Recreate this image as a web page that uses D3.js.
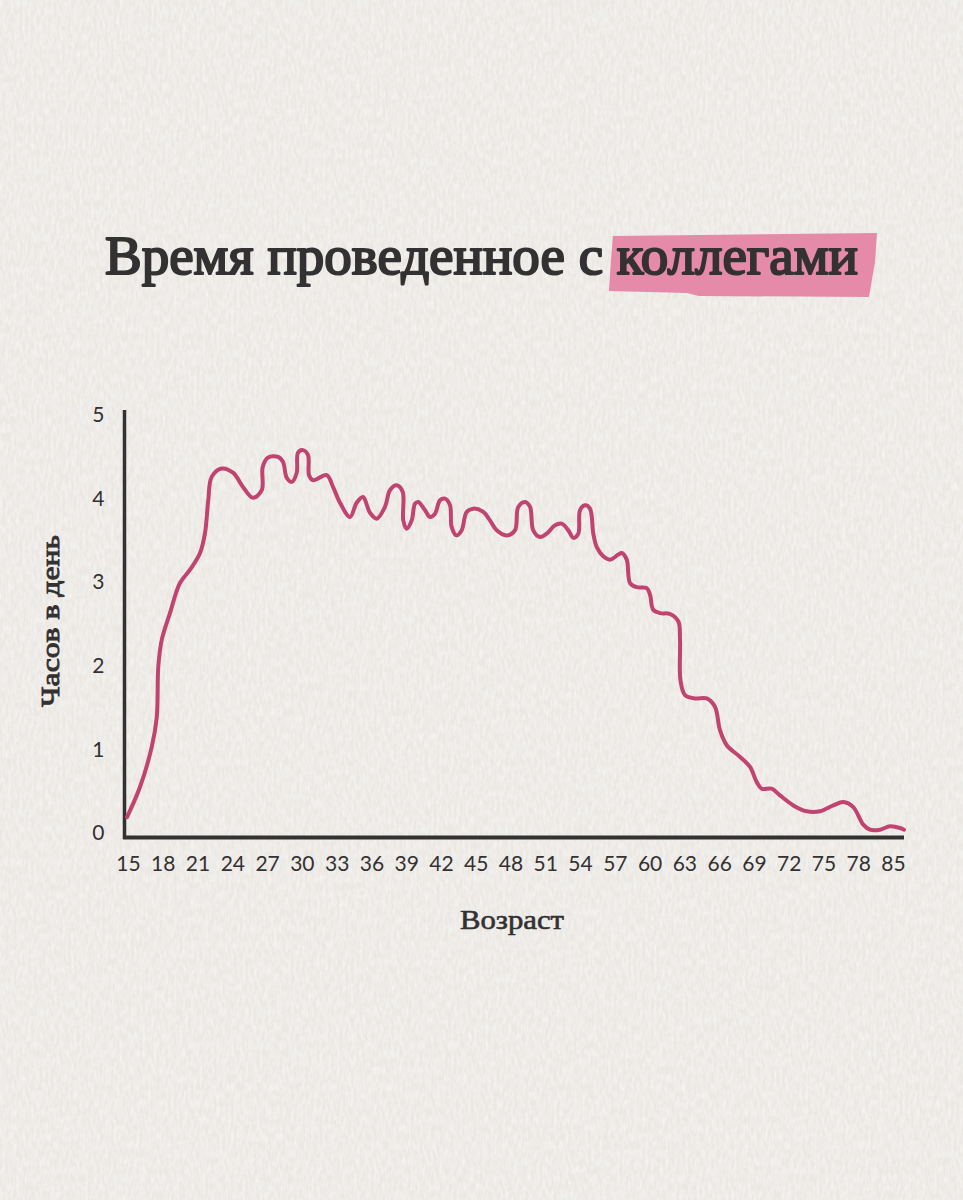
<!DOCTYPE html>
<html>
<head>
<meta charset="utf-8">
<script src="https://cdn.jsdelivr.net/npm/d3@7"></script>
<style>
  html, body { margin: 0; padding: 0; background: #efedea; }
  svg { display: block; }
</style>
</head>
<body>
<div id="chart"></div>
<script>
// ---- Data ----
const titleMain = "Время проведенное с ";
const titleHighlight = "коллегами";
const yAxisTitle = "Часов в день";
const xAxisTitle = "Возраст";
const xTickLabels = ["15","18","21","24","27","30","33","36","39","42","45","48","51","54","57","60","63","66","69","72","75","78","85"];
const yTickValues = [0, 1, 2, 3, 4, 5];

// curve sample points: age (years) and hours per day
const ages = [
  15.0, 16.17, 17.23, 17.68, 17.82, 18.13, 18.87, 19.77, 20.68, 21.58,
  22.03, 22.32, 22.63, 23.53, 24.55, 25.45, 26.35, 27.14, 27.23, 27.70,
  28.60, 29.05, 29.39, 29.84, 30.29, 30.41, 30.86, 31.31, 31.40, 31.76,
  32.99, 33.56, 34.19, 35.09, 35.69, 36.26, 36.89, 37.50, 38.24, 38.69,
  39.30, 39.84, 39.89, 40.20, 40.65, 40.95, 41.24, 41.85, 42.30, 42.75,
  43.20, 43.65, 44.10, 44.25, 44.70, 45.15, 45.60, 46.20, 47.10, 47.70,
  48.31, 49.21, 49.95, 50.25, 50.86, 51.31, 51.60, 52.21, 52.81, 53.56,
  54.16, 54.76, 55.21, 55.66, 55.81, 56.26, 56.71, 57.01, 57.32, 57.91,
  58.51, 59.26, 59.57, 60.02, 60.32, 60.92, 61.82, 62.12, 62.41, 63.02,
  63.92, 64.67, 64.82, 64.86, 65.27, 66.17, 67.23, 67.97, 68.42, 69.03,
  70.23, 71.13, 71.73, 72.18, 73.08, 73.83, 75.03, 76.23, 77.43, 78.63,
  79.53, 80.43, 81.33, 81.94, 82.84, 83.74, 84.64, 85.0
];
const hours = [
  0.19, 0.55, 1.03, 1.38, 1.99, 2.31, 2.63, 2.99, 3.15, 3.35,
  3.59, 3.98, 4.26, 4.36, 4.31, 4.14, 4.01, 4.10, 4.38, 4.49,
  4.50, 4.44, 4.25, 4.20, 4.31, 4.55, 4.58, 4.52, 4.28, 4.22,
  4.28, 4.14, 3.95, 3.78, 3.95, 4.02, 3.83, 3.76, 3.90, 4.10,
  4.16, 4.08, 3.74, 3.64, 3.74, 3.94, 3.96, 3.86, 3.78, 3.82,
  3.98, 4.00, 3.92, 3.66, 3.56, 3.62, 3.84, 3.88, 3.84, 3.74,
  3.62, 3.56, 3.62, 3.90, 3.96, 3.90, 3.62, 3.54, 3.58, 3.68,
  3.70, 3.62, 3.53, 3.58, 3.86, 3.92, 3.88, 3.58, 3.42, 3.31,
  3.27, 3.33, 3.35, 3.27, 2.99, 2.94, 2.93, 2.85, 2.67, 2.63,
  2.62, 2.53, 2.31, 1.83, 1.65, 1.61, 1.61, 1.51, 1.23, 1.05,
  0.91, 0.79, 0.61, 0.53, 0.53, 0.45, 0.33, 0.26, 0.26, 0.33,
  0.37, 0.31, 0.10, 0.04, 0.04, 0.08, 0.06, 0.04
];

// ---- Layout ----
const W = 963, H = 1200;
const colors = { bg: "#efedea", ink: "#333131", line: "#c0446f", highlight: "#e68aa9" };

const svg = d3.select("#chart").append("svg")
  .attr("width", W).attr("height", H)
  .attr("viewBox", `0 0 ${W} ${H}`);

// paper texture
const defs = svg.append("defs");
const f = defs.append("filter").attr("id", "paper").attr("x", 0).attr("y", 0).attr("width", "100%").attr("height", "100%");
f.append("feTurbulence").attr("type", "fractalNoise").attr("baseFrequency", "0.35 0.12").attr("numOctaves", 3).attr("seed", 4).attr("result", "noise");
f.append("feColorMatrix").attr("in", "noise").attr("type", "matrix")
  .attr("values", "0 0 0 0 1  0 0 0 0 1  0 0 0 0 1  0 0 0 -1.2 0.8");
svg.append("rect").attr("width", W).attr("height", H).attr("fill", "#ebe8e4");
svg.append("rect").attr("width", W).attr("height", H).attr("filter", "url(#paper)").attr("opacity", 0.8);

// ---- Scales ----
const x = d3.scaleLinear().domain([15, 85]).range([127, 904]);
const y = d3.scaleLinear().domain([0, 5]).range([833, 415]);
const xLabels = d3.scalePoint().domain(xTickLabels).range([128, 893]);

// ---- Title ----
const serif = "'Liberation Serif', 'DejaVu Serif', serif";
const titleG = svg.append("g");
const titleX = 105, titleW = 753;
const titleText = titleG.append("text")
  .attr("x", titleX).attr("y", 274)
  .attr("font-family", serif).attr("font-weight", 400)
  .attr("font-size", 55).attr("fill", colors.ink)
  .attr("stroke", colors.ink).attr("stroke-width", 2.1)
  .attr("stroke-linejoin", "round");
titleText.append("tspan").text(titleMain);
titleText.append("tspan").text(titleHighlight);
const natW = titleText.node().getComputedTextLength();
const natSub = titleText.node().getSubStringLength(0, titleMain.length);
titleText.attr("textLength", titleW).attr("lengthAdjust", "spacingAndGlyphs");
const startX = titleX + titleW * natSub / natW;
const endX = titleX + titleW;
const hx0 = startX - 8, hx1 = endX + 19;
titleG.insert("path", "text")
  .attr("d", d3.line()([
    [hx0 + 4, 236], [hx1, 233], [hx1 - 2, 262], [hx1 - 8, 297],
    [hx0 + 90, 296], [hx0 + 78, 293], [hx0, 291], [hx0 + 2, 262]
  ]) + "Z")
  .attr("fill", colors.highlight);

// ---- Axes ----
const tickFont = "Lato, 'Noto Sans', sans-serif";
const yAxis = d3.axisLeft(y).tickValues(yTickValues).tickSize(0).tickPadding(20).tickFormat(d3.format("d"));
const yg = svg.append("g").attr("transform", "translate(124.5,0)").call(yAxis);
yg.select(".domain").remove();
yg.selectAll("text").attr("font-family", tickFont).attr("font-size", 21).attr("fill", colors.ink);

const xAxis = d3.axisBottom(xLabels).tickSize(0).tickPadding(19);
const xg = svg.append("g").attr("transform", "translate(0,837)").call(xAxis);
xg.select(".domain").remove();
xg.selectAll("text").attr("font-family", tickFont).attr("font-size", 21).attr("fill", colors.ink);

// axis lines
svg.append("line")
  .attr("x1", x(15) - 2.5).attr("x2", x(15) - 2.5)
  .attr("y1", y(5) - 5).attr("y2", y(0) + 6)
  .attr("stroke", colors.ink).attr("stroke-width", 3.5);
svg.append("line")
  .attr("x1", x(15) - 4).attr("x2", x(85))
  .attr("y1", y(0) + 4.5).attr("y2", y(0) + 4.5)
  .attr("stroke", colors.ink).attr("stroke-width", 4);

// axis titles
svg.append("text")
  .attr("transform", "translate(59,621) rotate(-90)")
  .attr("text-anchor", "middle")
  .attr("font-family", serif).attr("font-weight", 400).attr("font-size", 26)
  .attr("stroke", colors.ink).attr("stroke-width", 0.9)
  .attr("textLength", 172).attr("lengthAdjust", "spacingAndGlyphs")
  .attr("fill", colors.ink)
  .text(yAxisTitle);
svg.append("text")
  .attr("x", 512).attr("y", 929)
  .attr("text-anchor", "middle")
  .attr("font-family", serif).attr("font-weight", 400).attr("font-size", 27)
  .attr("stroke", colors.ink).attr("stroke-width", 0.6)
  .attr("textLength", 104).attr("lengthAdjust", "spacingAndGlyphs")
  .attr("fill", colors.ink)
  .text(xAxisTitle);

// ---- Line ----
const pts = ages.map((a, i) => [a, hours[i]]);
svg.append("path")
  .datum(pts)
  .attr("fill", "none")
  .attr("stroke", colors.line)
  .attr("stroke-width", 4)
  .attr("stroke-linecap", "round")
  .attr("stroke-linejoin", "round")
  .attr("d", d3.line().x(d => x(d[0])).y(d => y(d[1])).curve(d3.curveCatmullRom.alpha(0.5)));
</script>
</body>
</html>
